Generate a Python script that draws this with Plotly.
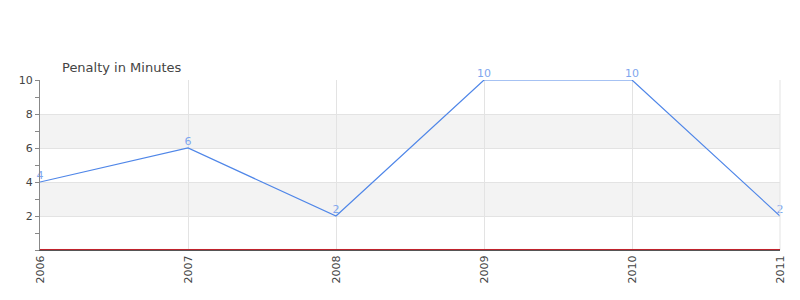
import plotly.graph_objects as go

years = [2006, 2007, 2008, 2009, 2010, 2011]
penalty = [4, 6, 2, 10, 10, 2]
y_ticks = [2, 4, 6, 8, 10]
bands = [(2, 4), (6, 8)]

fig = go.Figure()
for lo, hi in bands:
    fig.add_shape(type="rect", xref="paper", yref="y", x0=0, x1=1, y0=lo, y1=hi,
                  fillcolor="#f3f3f3", line_width=0, layer="below")

fig.add_trace(go.Scatter(
    x=years, y=penalty, mode="lines+text",
    text=[str(v) for v in penalty], textposition="top center",
    textfont=dict(color="#7fa6ee", size=11),
    line=dict(color="#4f86e8", width=1.2),
    cliponaxis=False, hoverinfo="x+y",
))

fig.add_annotation(text="Penalty in Minutes", xref="paper", yref="paper",
                   x=0.027, y=1.0, xanchor="left", yanchor="bottom", yshift=3,
                   showarrow=False, font=dict(size=13, color="#444444"))

fig.update_layout(
    width=800, height=300,
    margin=dict(l=40, r=20, t=80, b=50),
    paper_bgcolor="white", plot_bgcolor="white",
    font=dict(family="DejaVu Sans", size=11, color="#444444"),
    showlegend=False,
    xaxis=dict(range=[2006, 2011], tickvals=years, ticktext=[str(y) for y in years],
               tickangle=-90, showgrid=True, gridcolor="#e3e3e3", gridwidth=1,
               zeroline=False, showline=True, linecolor="#555555", linewidth=1,
               ticks="", mirror=False, tickfont=dict(size=11, color="#444444")),
    yaxis=dict(range=[0, 10], tickvals=y_ticks, showgrid=True, gridcolor="#e3e3e3",
               zeroline=False, showline=True, linecolor="#888888", linewidth=1,
               ticks="outside", ticklen=4, tickcolor="#888888",
               minor=dict(ticks="outside", ticklen=4, tickcolor="#888888", dtick=1, tick0=0, showgrid=False),
               tickfont=dict(size=11, color="#444444")),
)
fig.add_shape(type="line", xref="paper", yref="paper", x0=1, x1=1, y0=0, y1=1,
              line=dict(color="#e3e3e3", width=1))
fig.add_shape(type="line", xref="paper", yref="y", x0=0, x1=1, y0=0.03, y1=0.03,
              line=dict(color="#c0202a", width=1), layer="above")
fig.write_html("out.html")
